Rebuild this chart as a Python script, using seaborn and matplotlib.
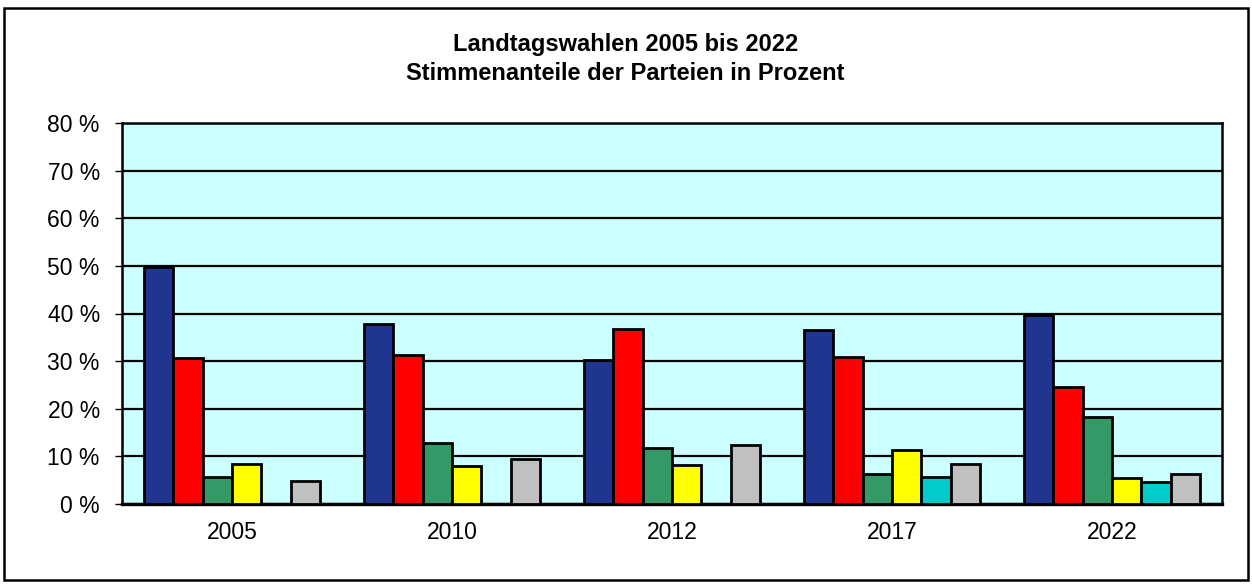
import numpy as np
import pandas as pd
import seaborn as sns
import matplotlib.pyplot as plt
from matplotlib.patches import Rectangle

# --- data ---
years = ['2005', '2010', '2012', '2017', '2022']
parties = ['CDU', 'SPD', 'GRÜNE', 'FDP', 'AfD', 'Sonstige']
cdu = [49.8, 37.7, 30.2, 36.6, 39.7]
spd = [30.7, 31.3, 36.8, 30.8, 24.5]
gruene = [5.7, 12.9, 11.8, 6.4, 18.3]
fdp = [8.3, 8.0, 8.1, 11.3, 5.4]
afd = [np.nan, np.nan, np.nan, 5.7, 4.7]
sonstige = [4.8, 9.4, 12.3, 8.3, 6.3]
party_colors = ['#1F3590', '#FF0000', '#339966', '#FFFF00', '#00CCCC', '#C0C0C0']
y_ticks = [0, 10, 20, 30, 40, 50, 60, 70, 80]

values = {'CDU': cdu, 'SPD': spd, 'GRÜNE': gruene, 'FDP': fdp,
          'AfD': afd, 'Sonstige': sonstige}
rows = []
for party in parties:
    for year, v in zip(years, values[party]):
        rows.append({'Jahr': year, 'Partei': party, 'Anteil': v})
df = pd.DataFrame(rows)

sns.set_style('white')
plt.rcParams['font.family'] = ['Liberation Sans', 'DejaVu Sans']
plt.rcParams['text.color'] = 'black'
plt.rcParams['xtick.color'] = 'black'
plt.rcParams['ytick.color'] = 'black'

fig = plt.figure(figsize=(12.52, 5.84), dpi=100)
ax = fig.add_axes([122 / 1252, 1 - 504 / 584, 1100 / 1252, 381 / 584])

sns.barplot(data=df, x='Jahr', y='Anteil', hue='Partei', order=years,
            hue_order=parties, palette=party_colors, width=0.8,
            edgecolor='black', linewidth=2.0, saturation=1, ax=ax,
            legend=False, zorder=3)

ax.set_facecolor('#CCFFFF')
ax.set_ylim(0, 80)
ax.set_yticks(y_ticks)
ax.set_yticklabels([f'{t} %' for t in y_ticks], fontsize=16.5)
ax.tick_params(axis='x', labelsize=16.5, length=0, pad=12)
ax.tick_params(axis='y', length=5, width=1, left=True, pad=11)
ax.set_xlabel('')
ax.set_ylabel('')
ax.grid(axis='y', color='black', linewidth=1.6, zorder=1)
ax.set_axisbelow(True)
for s in ax.spines.values():
    s.set_color('black')
    s.set_linewidth(1.8)
ax.spines['bottom'].set_linewidth(2.4)

fig.text(0.4995, 1 - 51 / 584, 'Landtagswahlen 2005 bis 2022', ha='center',
         va='baseline', fontsize=17, fontweight='bold')
fig.text(0.4995, 1 - 80 / 584, 'Stimmenanteile der Parteien in Prozent', ha='center',
         va='baseline', fontsize=17, fontweight='bold')

# outer frame around the whole chart
fig.patches.append(Rectangle((4 / 1252, 4 / 584), 1244 / 1252, 572 / 584,
                             transform=fig.transFigure, fill=False,
                             edgecolor='black', linewidth=1.8))

fig.savefig('out.png', dpi=100)
